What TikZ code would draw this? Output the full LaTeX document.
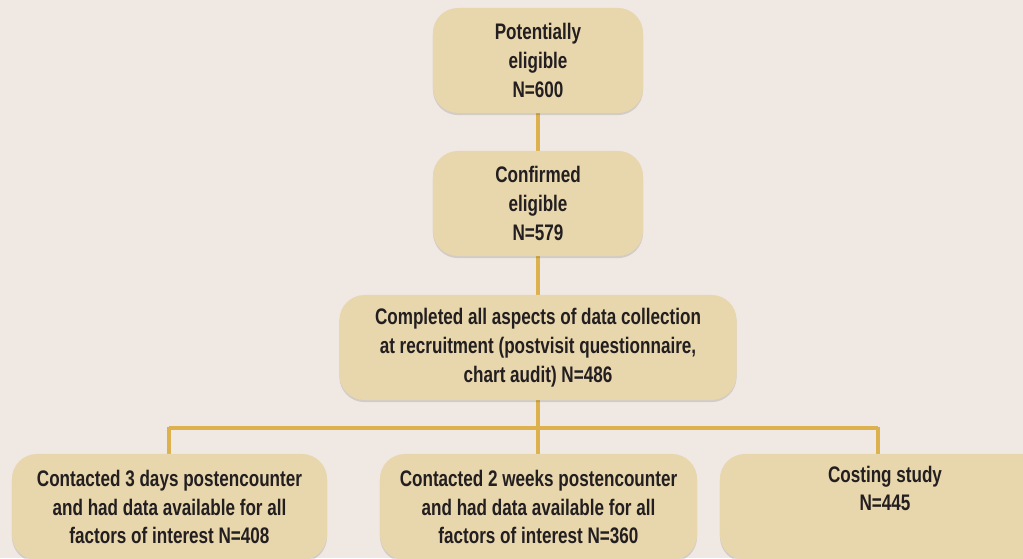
\documentclass[tikz,border=0pt]{standalone}
\usepackage{fontspec}
\setmainfont[FakeStretch=0.76]{Liberation Sans}
\usetikzlibrary{shadows}
\definecolor{pagebg}{HTML}{F0E9E3}
\definecolor{boxfill}{HTML}{E8D6AD}
\definecolor{linkgold}{HTML}{DDB24E}
\definecolor{inkdark}{HTML}{231F20}
\tikzset{
  flowbox/.style={fill=boxfill, rounded corners=0.625cm, align=center,
    text=inkdark, font=\fontsize{16}{20.5}\selectfont\bfseries,
    drop shadow={shadow xshift=0pt, shadow yshift=-1.5pt, opacity=0.12, fill=black}},
  link/.style={draw=linkgold, line width=2.8pt}
}
\begin{document}
\begin{tikzpicture}[x=0.025cm, y=-0.025cm]
      \clip (0,0) rectangle (1023,558);
      \fill[pagebg] (0,0) rectangle (1023,558);
      \begin{scope}[-, link]
        \draw (538,113) -- (538,151);
        \draw (538,256) -- (538,295);
        \draw (538,400) -- (538,454);
        \draw (169,428) -- (878,428);
        \draw (169,426.6) -- (169,454);
        \draw (878,426.6) -- (878,454);
      \end{scope}
      \node[flowbox, minimum width=5.25cm, minimum height=2.625cm] (potential) at (538,60.5)
        {Potentially\\eligible\\N=600};
      \node[flowbox, minimum width=5.25cm, minimum height=2.625cm] (confirmed) at (538,203.5)
        {Confirmed\\eligible\\N=579};
      \node[flowbox, minimum width=9.925cm, minimum height=2.625cm] (completed) at (538,347.5)
        {Completed all aspects of data collection\\at recruitment (postvisit questionnaire,\\chart audit) N=486};
      \node[flowbox, minimum width=7.875cm, minimum height=2.65cm] (threedays) at (169.5,507)
        {Contacted 3 days postencounter\\and had data available for all\\factors of interest N=408};
      \node[flowbox, minimum width=7.925cm, minimum height=2.65cm] (twoweeks) at (538.5,507)
        {Contacted 2 weeks postencounter\\and had data available for all\\factors of interest N=360};
      \node[flowbox, minimum width=8.25cm, minimum height=2.65cm] (costing) at (885,507)
        {Costing study\\N=445\\\strut};
\end{tikzpicture}
\end{document}
